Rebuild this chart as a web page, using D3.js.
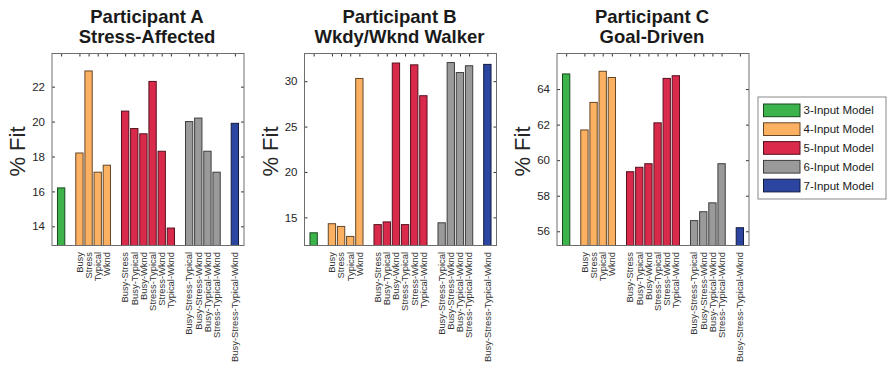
<!DOCTYPE html>
<html>
<head>
<meta charset="utf-8">
<script src="https://cdn.jsdelivr.net/npm/d3@7/dist/d3.min.js"></script>
<style>
  html, body { margin: 0; padding: 0; background: #fff; }
  svg { display: block; font-family: "Liberation Sans", Arial, sans-serif; }
</style>
</head>
<body>
<svg id="chart" width="891" height="366"></svg>
<script>
// ---- data ----
const modelNames = ["3-Input Model", "4-Input Model", "5-Input Model", "6-Input Model", "7-Input Model"];
const modelColors = ["#3cb44b", "#fcb062", "#d92a4c", "#9a9a9a", "#2c45a0"];

// input combinations, one per bar; the 3-input model carries no label
const barLabels = [
  "",
  "Busy", "Stress", "Typical", "Wknd",
  "Busy-Stress", "Busy-Typical", "Busy-Wknd", "Stress-Typical", "Stress-Wknd", "Typical-Wknd",
  "Busy-Stress-Typical", "Busy-Stress-Wknd", "Busy-Typical-Wknd", "Stress-Typical-Wknd",
  "Busy-Stress-Typical-Wknd"
];
// model group (index into modelNames) of each bar
const barModel = [0, 1, 1, 1, 1, 2, 2, 2, 2, 2, 2, 3, 3, 3, 3, 4];

const titlesA = ["Participant A", "Stress-Affected"];
const titlesB = ["Participant B", "Wkdy/Wknd Walker"];
const titlesC = ["Participant C", "Goal-Driven"];

const fitA = [16.2, 18.2, 22.9, 17.1, 17.5, 20.6, 19.6, 19.3, 22.3, 18.3, 13.9, 20.0, 20.2, 18.3, 17.1, 19.9];
const fitB = [13.3, 14.3, 14.0, 12.9, 30.3, 14.2, 14.5, 32.0, 14.2, 31.8, 28.4, 14.4, 32.05, 30.95, 31.7, 31.85];
const fitC = [64.85, 61.7, 63.25, 65.0, 64.65, 59.35, 59.6, 59.8, 62.1, 64.6, 64.75, 56.6, 57.1, 57.6, 59.8, 56.2];

const yTicksA = [14, 16, 18, 20, 22];
const yTicksB = [15, 20, 25, 30];
const yTicksC = [56, 58, 60, 62, 64];

const yLabel = "% Fit";

// ---- layout ----
const svg = d3.select("#chart");
const plotTop = 53.5, plotSize = 192;
const panels = [
  { left: 52,    titles: titlesA, values: fitA, ticks: yTicksA },
  { left: 304.5, titles: titlesB, values: fitB, ticks: yTicksB },
  { left: 557,   titles: titlesC, values: fitC, ticks: yTicksC }
];

// slot along the x axis: one empty slot separates consecutive model groups
const slotOf = (i) => i + 1 + barModel[i];
const nSlots = slotOf(barLabels.length - 1) + 1;

panels.forEach((p) => {
  const g = svg.append("g").attr("transform", `translate(${p.left},${plotTop})`);
  const x = d3.scaleLinear().domain([0, nSlots]).range([0, plotSize]);
  const lo = d3.min(p.values) - 1, hi = d3.max(p.values) + 1;
  const y = d3.scaleLinear().domain([lo, hi]).range([plotSize, 0]);
  const bw = x(0.8) - x(0);

  // axes first (ticks point inward on all four sides), bars drawn over them
  const tickLen = 3;
  const tickSlots = barLabels.map((_, i) => slotOf(i));
  const axL = d3.axisLeft(y).tickValues(p.ticks).tickSize(-tickLen).tickPadding(7).tickFormat(d3.format("d"));
  const axR = d3.axisRight(y).tickValues(p.ticks).tickSize(-tickLen).tickFormat("");
  const axB = d3.axisBottom(x).tickValues(tickSlots).tickSize(-tickLen).tickFormat("");
  const axT = d3.axisTop(x).tickValues(tickSlots).tickSize(-tickLen).tickFormat("");

  const gl = g.append("g").call(axL);
  g.append("g").attr("transform", `translate(${plotSize},0)`).call(axR);
  g.append("g").attr("transform", `translate(0,${plotSize})`).call(axB);
  g.append("g").call(axT);
  g.selectAll(".domain").remove();
  g.selectAll(".tick line").attr("stroke", "#333");
  gl.selectAll(".tick text").attr("font-size", 11.5).attr("fill", "#262626")
    .attr("font-family", "Liberation Sans, Arial, sans-serif");

  // bars
  g.selectAll("rect.bar").data(p.values).join("rect")
    .attr("class", "bar")
    .attr("x", (d, i) => x(slotOf(i)) - bw / 2)
    .attr("y", d => y(d))
    .attr("width", bw)
    .attr("height", d => y(lo) - y(d))
    .attr("fill", (d, i) => modelColors[barModel[i]])
    .attr("stroke", (d, i) => d3.color(modelColors[barModel[i]]).darker(2.6))
    .attr("stroke-width", 1);

  // axes box on top
  g.append("rect")
    .attr("width", plotSize).attr("height", plotSize)
    .attr("fill", "none").attr("stroke", "#6e6e6e").attr("stroke-width", 1);

  // rotated category labels under the axis
  g.selectAll("text.cat").data(barLabels).join("text")
    .attr("class", "cat")
    .attr("transform", (d, i) => `translate(${x(slotOf(i))},${plotSize + 6.5}) rotate(-90)`)
    .attr("dy", "0.35em")
    .attr("text-anchor", "end")
    .attr("font-size", 9.4)
    .attr("fill", "#333")
    .text(d => d);

  // y label
  svg.append("text")
    .attr("transform", `translate(${p.left - 27},${plotTop + plotSize / 2 + 2}) rotate(-90)`)
    .attr("text-anchor", "middle")
    .attr("font-size", 22)
    .attr("fill", "#262626")
    .text(yLabel);

  // two-line title
  svg.append("text")
    .attr("x", p.left + plotSize / 2 - 1)
    .attr("text-anchor", "middle")
    .attr("font-size", 18.5)
    .attr("font-weight", "bold")
    .attr("fill", "#1a1a1a")
    .selectAll("tspan").data(p.titles).join("tspan")
    .attr("x", p.left + plotSize / 2 - 1)
    .attr("y", (d, i) => 23.3 + i * 20)
    .text(d => d);
});

// ---- legend ----
const lg = svg.append("g").attr("transform", "translate(758,97)");
lg.append("rect").attr("width", 128).attr("height", 102)
  .attr("fill", "#fff").attr("stroke", "#8a8a8a").attr("stroke-width", 1);
const rowStep = 18.8;
const items = lg.selectAll("g.item").data(modelNames).join("g")
  .attr("class", "item")
  .attr("transform", (d, i) => `translate(0,${7 + i * rowStep})`);
items.append("rect")
  .attr("x", 5.5).attr("width", 36.5).attr("height", 12.7)
  .attr("fill", (d, i) => modelColors[i])
  .attr("stroke", (d, i) => d3.color(modelColors[i]).darker(2.6));
items.append("text")
  .attr("x", 45.5).attr("y", 6.35).attr("dy", "0.35em")
  .attr("font-size", 11.5).attr("fill", "#1a1a1a")
  .text(d => d);
</script>
</body>
</html>
